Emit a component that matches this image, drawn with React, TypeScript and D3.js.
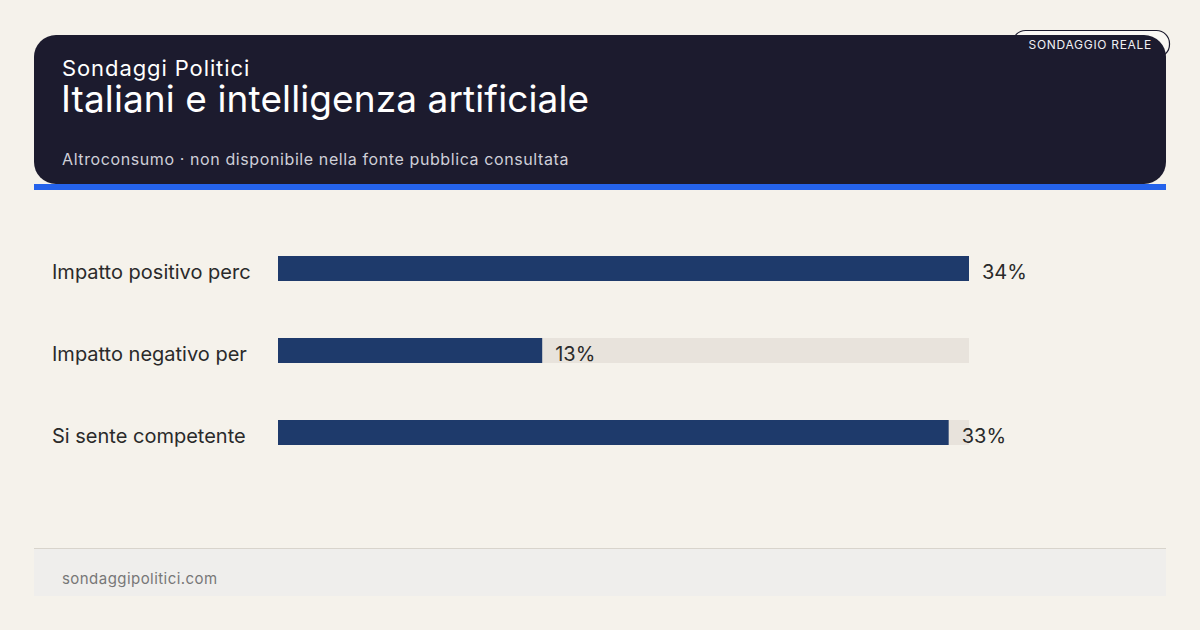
import React from "react";
import * as d3 from "d3";

const categories = ["Impatto positivo perc", "Impatto negativo per", "Si sente competente"];
const values = [34, 13, 33];
const valueLabels = ["34%", "13%", "33%"];

const W = 1200;
const H = 630;
const FONT = "Inter, 'Noto Sans', sans-serif";

export default function App() {
  const x = d3.scaleLinear().domain([0, d3.max(values) as number]).range([278, 969]);
  const bh = 25;
  const step = 82;
  const y0 = 256;
  return (
    <svg width={W} height={H} style={{ position: "absolute", left: 0, top: 0, display: "block" }} fontFamily={FONT}>
      <rect x={0} y={0} width={W} height={H} fill="#f5f2eb" />
      {/* badge (behind header) */}
      <rect x={1012.5} y={30.5} width={157} height={27} rx={13} fill="#faf8f4" stroke="#1c1b2e" strokeWidth={1.2} />
      {/* header */}
      <rect x={34} y={35} width={1132} height={149} rx={22} fill="#1c1b2e" />
      <rect x={34} y={184} width={1132} height={6} fill="#2563eb" />
      <text x={62} y={76} fill="#ffffff" fontSize={22} letterSpacing={0.9}>Sondaggi Politici</text>
      <text x={61} y={112} fill="#ffffff" fontSize={37} letterSpacing={0.1}>Italiani e intelligenza artificiale</text>
      <text x={62} y={165} fill="#cfcfd8" fontSize={16} letterSpacing={0.6}>Altroconsumo · non disponibile nella fonte pubblica consultata</text>
      <text x={1152} y={49} fill="#f0f0f4" fontSize={12} textAnchor="end" letterSpacing={0.7}>SONDAGGIO REALE</text>
      {/* bars */}
      {categories.map((c, i) => {
        const cy = y0 + i * step;
        const xe = x(values[i]);
        return (
          <g key={c}>
            <text x={52} y={cy + 23} fill="#2a2a2a" fontSize={20}>{c}</text>
            <rect x={x(0)} y={cy} width={x.range()[1] - x(0)} height={bh} fill="#e8e3dc" />
            <rect x={x(0)} y={cy} width={xe - x(0)} height={bh} fill="#1e3a6b" />
            <text x={xe + 13} y={cy + 23} fill="#2a2a2a" fontSize={20}>{valueLabels[i]}</text>
          </g>
        );
      })}
      {/* footer */}
      <rect x={34} y={549} width={1132} height={47} fill="#efeeec" />
      <line x1={34} x2={1166} y1={548.5} y2={548.5} stroke="#d8d4cc" strokeWidth={1} />
      <text x={62} y={584} fill="#777777" fontSize={15} letterSpacing={0.45}>sondaggipolitici.com</text>
    </svg>
  );
}
